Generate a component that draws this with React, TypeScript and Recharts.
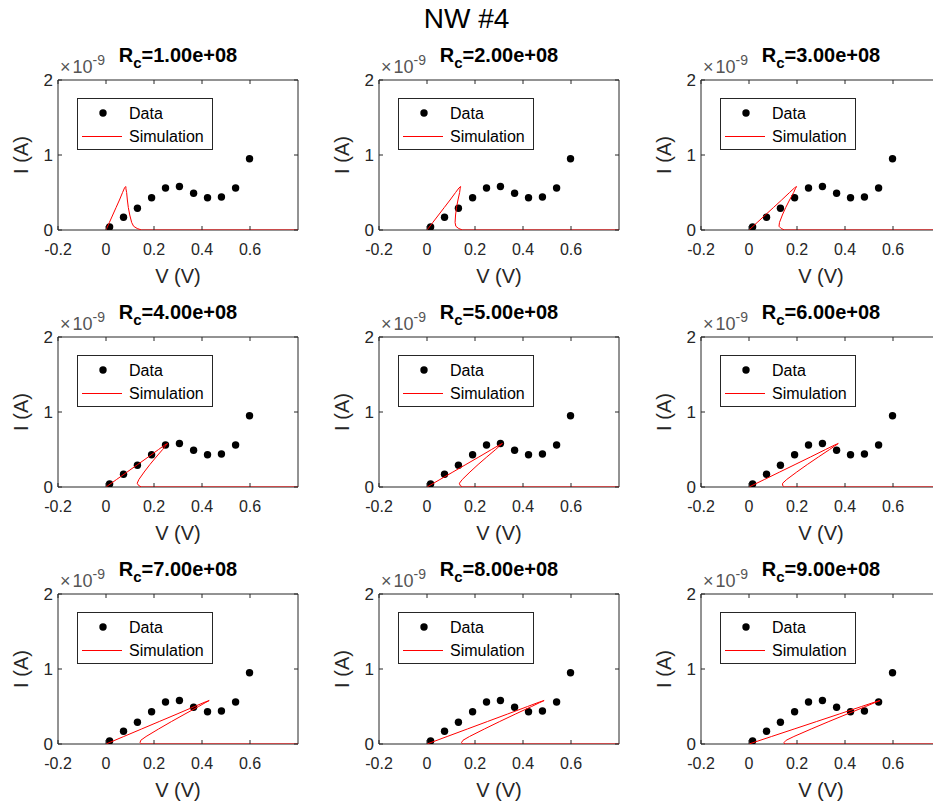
import React from 'react';
import { ComposedChart, Scatter, XAxis, YAxis, Legend, ReferenceLine } from 'recharts';

// measured points (V in volts, I in units of 1e-9 A)
const dataV = [0.015, 0.073, 0.131, 0.19, 0.248, 0.306, 0.365, 0.423, 0.481, 0.54, 0.598];
const dataI = [0.04, 0.17, 0.29, 0.43, 0.56, 0.58, 0.49, 0.43, 0.44, 0.56, 0.95];

// simulated loop, current along the curve (shared), voltage per panel
const simI = [0, 0.1, 0.2, 0.3, 0.4, 0.5, 0.56, 0.58, 0.57, 0.55, 0.5, 0.4, 0.3, 0.2, 0.1, 0.05, 0.02, 0, 0];
const simV1 = [0, 0.014, 0.028, 0.042, 0.056, 0.069, 0.077, 0.082, 0.083, 0.083, 0.086, 0.089, 0.093, 0.099, 0.107, 0.115, 0.13, 0.148, 0.8];
const simV2 = [0, 0.024, 0.048, 0.072, 0.096, 0.119, 0.133, 0.14, 0.14, 0.138, 0.136, 0.129, 0.123, 0.119, 0.117, 0.12, 0.132, 0.148, 0.8];
const simV3 = [0, 0.034, 0.068, 0.102, 0.136, 0.169, 0.189, 0.198, 0.197, 0.193, 0.186, 0.169, 0.153, 0.139, 0.127, 0.125, 0.134, 0.148, 0.8];
const simV4 = [0, 0.044, 0.088, 0.132, 0.176, 0.219, 0.245, 0.256, 0.254, 0.248, 0.236, 0.209, 0.183, 0.159, 0.137, 0.13, 0.136, 0.148, 0.8];
const simV5 = [0, 0.054, 0.108, 0.162, 0.216, 0.269, 0.301, 0.314, 0.311, 0.303, 0.286, 0.249, 0.213, 0.179, 0.147, 0.135, 0.138, 0.148, 0.8];
const simV6 = [0, 0.064, 0.128, 0.192, 0.256, 0.319, 0.357, 0.372, 0.368, 0.358, 0.336, 0.289, 0.243, 0.199, 0.157, 0.14, 0.14, 0.148, 0.8];
const simV7 = [0, 0.074, 0.148, 0.222, 0.296, 0.369, 0.413, 0.43, 0.425, 0.413, 0.386, 0.329, 0.273, 0.219, 0.167, 0.145, 0.142, 0.148, 0.8];
const simV8 = [0, 0.084, 0.168, 0.252, 0.336, 0.419, 0.469, 0.488, 0.482, 0.468, 0.436, 0.369, 0.303, 0.239, 0.177, 0.15, 0.144, 0.148, 0.8];
const simV9 = [0, 0.094, 0.188, 0.282, 0.376, 0.469, 0.525, 0.546, 0.539, 0.523, 0.486, 0.409, 0.333, 0.259, 0.187, 0.155, 0.146, 0.148, 0.8];
const simVs = [simV1, simV2, simV3, simV4, simV5, simV6, simV7, simV8, simV9];

const rcLabels = ['1.00e+08', '2.00e+08', '3.00e+08', '4.00e+08', '5.00e+08', '6.00e+08', '7.00e+08', '8.00e+08', '9.00e+08'];
const xTicks = [-0.2, 0, 0.2, 0.4, 0.6];
const yTicks = [0, 1, 2];

const FONT = "'Liberation Sans', Arial, Helvetica, sans-serif";
const INK = '#262626';
const colLeft = [58, 379, 701];
const rowTop = [80, 337, 594];
const YW = 74;
const TOP = 70;
const PW = 240;
const PH = 150;
const XH = 92;

const dataPts = dataV.map((v, k) => ({ v, i: dataI[k] }));

function PanelTitle(props: any) {
  const vb = props.viewBox || { x: 0, y: 0, width: 0 };
  const cx = vb.x + vb.width / 2;
  return (
    <g>
      <text x={vb.x + 2} y={vb.y - 7} fontSize={18} fill="#555" fontFamily={FONT}>
        ×<tspan dx={2}>10</tspan><tspan dy={-8} fontSize={14}>-9</tspan>
      </text>
      <text x={cx} y={vb.y - 18} textAnchor="middle" fontSize={20} fontWeight="bold" fill="#000" fontFamily={FONT}>
        R<tspan dy={6} fontSize={15}>c</tspan>
        <tspan dy={-6}>={props.rc}</tspan>
      </text>
    </g>
  );
}

function XTick(props: any) {
  const { x, y, payload } = props;
  const v = payload.value;
  return (
    <g>
      <line x1={x} x2={x} y1={TOP + PH} y2={TOP + PH - 4} stroke={INK} />
      <line x1={x} x2={x} y1={TOP} y2={TOP + 4} stroke={INK} />
      <text x={x} y={y} dy="0.71em" textAnchor="middle" fontSize={16} fill={INK} fontFamily={FONT}>
        {v === 0 ? '0' : String(v)}
      </text>
    </g>
  );
}

function YTick(props: any) {
  const { x, y, payload } = props;
  return (
    <g>
      <line x1={YW} x2={YW + 4} y1={y} y2={y} stroke={INK} />
      <line x1={YW + PW} x2={YW + PW - 4} y1={y} y2={y} stroke={INK} />
      <text x={x} y={y} dominantBaseline="central" textAnchor="end" fontSize={17} fill={INK} fontFamily={FONT}>
        {String(payload.value)}
      </text>
    </g>
  );
}

function LegendBox() {
  return (
    <svg width={136} height={52} style={{ display: 'block' }}>
      <rect x={0.5} y={0.5} width={135} height={51} fill="#fff" stroke={INK} />
      <circle cx={26} cy={15} r={3.7} fill="#000" />
      <text x={52} y={15} dominantBaseline="central" fontSize={16} fill="#000" fontFamily={FONT}>Data</text>
      <line x1={5} x2={45} y1={38.5} y2={38.5} stroke="#f00" strokeWidth={1} />
      <text x={52} y={38} dominantBaseline="central" fontSize={16} fill="#000" fontFamily={FONT}>Simulation</text>
    </svg>
  );
}

const Dot = (p: any) => <circle cx={p.cx} cy={p.cy} r={3.7} fill="#000" />;
const NoDot = () => <g />;

function Panel({ idx }: { idx: number }) {
  const r = Math.floor(idx / 3);
  const c = idx % 3;
  const sim = simVs[idx].map((v, k) => ({ v, i: simI[k] }));
  return (
    <div style={{ position: 'absolute', left: colLeft[c] - YW, top: rowTop[r] - TOP }}>
      <ComposedChart width={YW + PW + 4} height={TOP + PH + XH} margin={{ top: TOP, right: 4, bottom: 0, left: 0 }}>
        <XAxis
          type="number" dataKey="v" domain={[-0.2, 0.8]} ticks={xTicks} allowDataOverflow
          height={XH} tickLine={false} tickSize={0} tickMargin={14} stroke={INK} tick={<XTick />}
          label={{ value: 'V (V)', position: 'center', fill: INK, fontSize: 20, fontFamily: FONT }}
        />
        <YAxis
          type="number" dataKey="i" domain={[0, 2]} ticks={yTicks} allowDataOverflow
          width={YW} tickLine={false} tickSize={0} tickMargin={5} stroke={INK} tick={<YTick />}
          label={{ value: 'I (A)', angle: -90, position: 'center', fill: INK, fontSize: 20, fontFamily: FONT }}
        />
        <ReferenceLine y={2} stroke={INK} ifOverflow="visible" label={<PanelTitle rc={rcLabels[idx]} />} />
        <ReferenceLine x={0.8} stroke={INK} ifOverflow="visible" />
        <Scatter data={dataPts} shape={Dot} isAnimationActive={false} />
        <Scatter data={sim} shape={NoDot} line={{ stroke: '#f00', strokeWidth: 1 }} isAnimationActive={false} />
        <Legend
          layout="horizontal" verticalAlign="middle" align="center"
          wrapperStyle={{ left: YW + 19, top: TOP + 18, width: 136, height: 52 }}
          content={() => <LegendBox />}
        />
      </ComposedChart>
    </div>
  );
}

export default function App() {
  return (
    <div style={{ position: 'absolute', left: 0, top: 0, width: 933, height: 812, overflow: 'hidden', background: '#fff', fontFamily: FONT }}>
      <div style={{ position: 'absolute', left: 0, width: 933, top: 3, textAlign: 'center', fontSize: 28, color: '#000' }}>NW #4</div>
      {simVs.map((_, idx) => (
        <Panel key={idx} idx={idx} />
      ))}
    </div>
  );
}
